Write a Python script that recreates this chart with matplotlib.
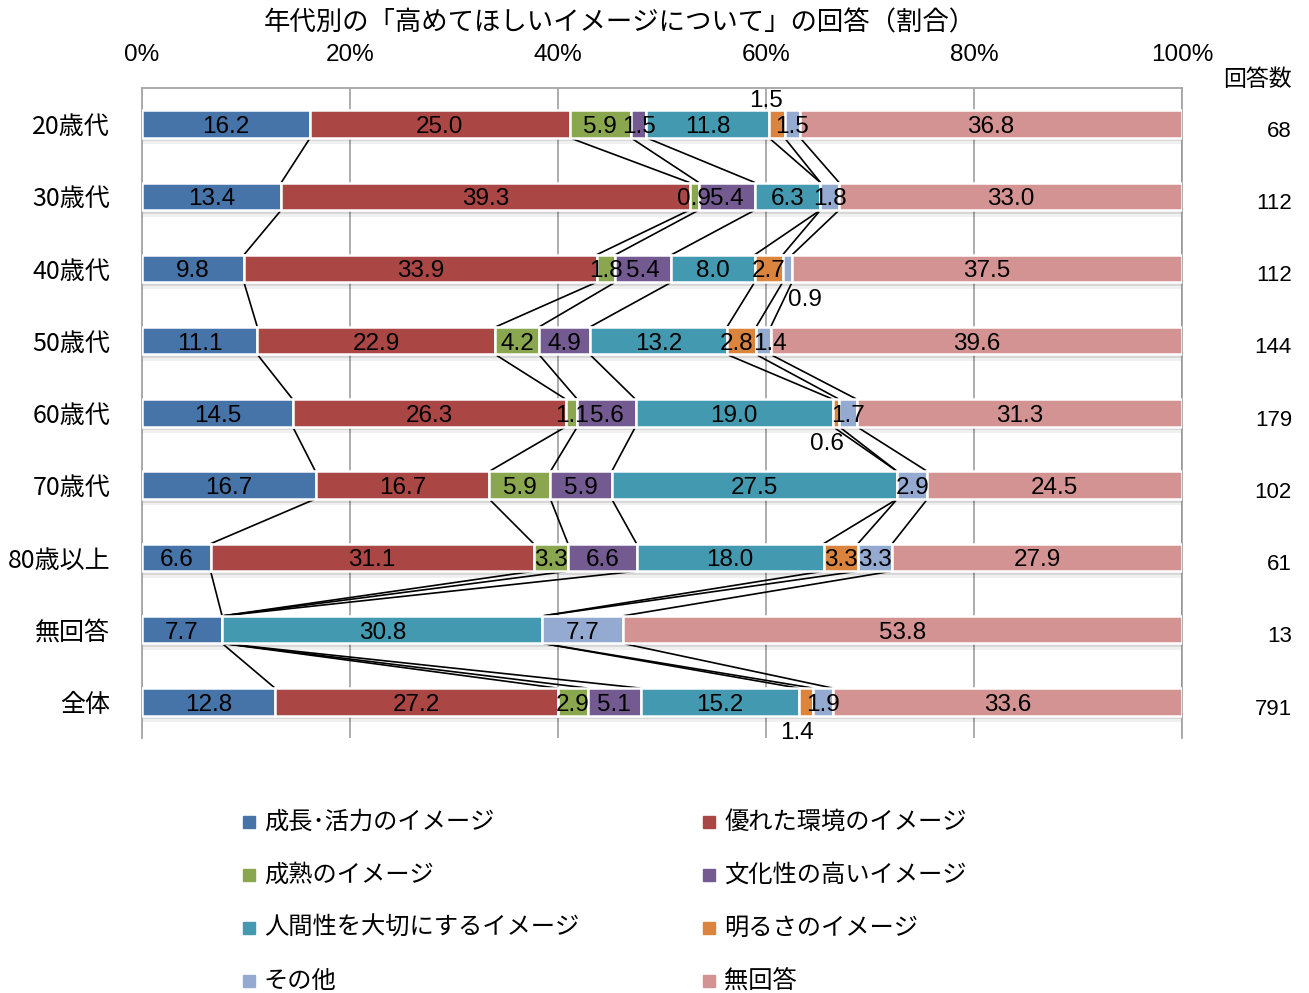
import numpy as np
import matplotlib
matplotlib.use("Agg")
import matplotlib.pyplot as plt
from matplotlib.patches import Rectangle
from matplotlib.transforms import blended_transform_factory

plt.rcParams['font.family'] = ['Noto Sans CJK JP', 'DejaVu Sans']
NUM_FONT = ['Liberation Sans', 'DejaVu Sans']

# 行（年代）
groups = ['20歳代', '30歳代', '40歳代', '50歳代', '60歳代', '70歳代', '80歳以上', '無回答', '全体']
counts = [68, 112, 112, 144, 179, 102, 61, 13, 791]

# 系列（割合 %）
series_names = ['成長･活力のイメージ', '優れた環境のイメージ', '成熟のイメージ', '文化性の高いイメージ',
                '人間性を大切にするイメージ', '明るさのイメージ', 'その他', '無回答']
growth = [16.2, 13.4, 9.8, 11.1, 14.5, 16.7, 6.6, 7.7, 12.8]
environment = [25.0, 39.3, 33.9, 22.9, 26.3, 16.7, 31.1, 0.0, 27.2]
mature = [5.9, 0.9, 1.8, 4.2, 1.1, 5.9, 3.3, 0.0, 2.9]
culture = [1.5, 5.4, 5.4, 4.9, 5.6, 5.9, 6.6, 0.0, 5.1]
humanity = [11.8, 6.3, 8.0, 13.2, 19.0, 27.5, 18.0, 30.8, 15.2]
brightness = [1.5, 0.0, 2.7, 2.8, 0.6, 0.0, 3.3, 0.0, 1.4]
other = [1.5, 1.8, 0.9, 1.4, 1.7, 2.9, 3.3, 7.7, 1.9]
no_answer = [36.8, 33.0, 37.5, 39.6, 31.3, 24.5, 27.9, 53.8, 33.6]

colors = ['#4673A8', '#AA4644', '#8AA64F', '#735A91', '#4399AF', '#DB843D', '#94AAD0', '#D39392']

# 小さい値のラベルはバーの外に置く: (行, 系列) -> (位置, x方向のずれ)
outside = {(0, 5): ('above', -1.0), (2, 6): ('below', 1.7), (4, 5): ('below', -0.9), (8, 5): ('below', -0.9)}
# 重なりを避けるための横方向の微調整
nudge = {(3, 5): -0.5, (3, 6): 0.6}

data = np.array([growth, environment, mature, culture, humanity, brightness, other, no_answer])
# Excel の 100% 積み上げと同様に各行の合計で正規化
share = data / data.sum(axis=0) * 100
cum = np.cumsum(share, axis=0)
left = cum - share

fig = plt.figure(figsize=(13.09, 9.93), dpi=100)
ax = fig.add_axes([0.1085, 0.2568, 0.7945, 0.6546])
ax.set_xlim(0, 100)
ax.set_ylim(len(groups) - 0.5, -0.5)

y = np.arange(len(groups))
h = 0.38

# 影
for dy, a in [(0.05, 0.10), (0.09, 0.06)]:
    ax.barh(y + dy, cum[-1], height=h, left=0, color='k', alpha=a, edgecolor='none', zorder=1.5)

for i, name in enumerate(series_names):
    ax.barh(y, share[i], left=left[i], height=h, color=colors[i], edgecolor='white',
            linewidth=1.8, zorder=3, label=name)

# 系列線
for i in range(len(series_names)):
    for r in range(len(groups) - 1):
        ax.plot([cum[i, r], cum[i, r + 1]], [r + h / 2, r + 1 - h / 2], color='black', lw=1.2,
                zorder=2.5, solid_capstyle='butt')

# データラベル
for i in range(len(series_names)):
    for r in range(len(groups)):
        v = data[i, r]
        if v == 0:
            continue
        cx = left[i, r] + share[i, r] / 2 + nudge.get((r, i), 0)
        cy = r
        if (r, i) in outside:
            pos, dx = outside[(r, i)]
            cx += dx
            cy = r - 0.17 - h / 2 if pos == 'above' else r + h / 2 + 0.2
        ax.text(cx, cy + 0.04, f'{v:.1f}', ha='center', va='center', fontsize=17.5,
                family=NUM_FONT, color='black', zorder=5)

# 軸
ax.xaxis.tick_top()
ax.set_xticks(np.arange(0, 101, 20))
ax.set_xticklabels([f'{t}%' for t in range(0, 101, 20)], family=NUM_FONT, fontsize=17.5)
ax.tick_params(axis='x', length=0, pad=16)
ax.set_yticks(y)
ax.set_yticklabels(groups, fontsize=18)
ax.tick_params(axis='y', length=0, pad=23)
ax.grid(axis='x', color='#A6A6A6', lw=1.3, zorder=0)
ax.set_axisbelow(True)
for s in ['top', 'left', 'right']:
    ax.spines[s].set_color('#A6A6A6')
    ax.spines[s].set_linewidth(1.3)
ax.spines['bottom'].set_visible(False)

# タイトル
fig.text(620 / 1309, 1 - 23 / 993, '年代別の「高めてほしいイメージについて」の回答（割合）',
         ha='center', va='center', fontsize=19)

# 回答数
fig.text(1292 / 1309, 1 - 80 / 993, '回答数', ha='right', va='center', fontsize=16.5)
tr = blended_transform_factory(fig.transFigure, ax.transData)
for r, n in enumerate(counts):
    ax.text(1292 / 1309, r + 0.1, str(n), transform=tr, ha='right', va='center',
            fontsize=16, family=NUM_FONT)

# 凡例（2列）
col_x = [243, 703]
row_y = [822, 875, 928, 981]
for i, name in enumerate(series_names):
    cx = col_x[i % 2]
    cy = row_y[i // 2]
    fig.add_artist(Rectangle((cx / 1309, 1 - (cy + 6) / 993), 12 / 1309, 12 / 993,
                             transform=fig.transFigure, color=colors[i]))
    fig.text((cx + 21) / 1309, 1 - cy / 993, name, ha='left', va='center', fontsize=17.5)

fig.savefig('out.png', dpi=100)
